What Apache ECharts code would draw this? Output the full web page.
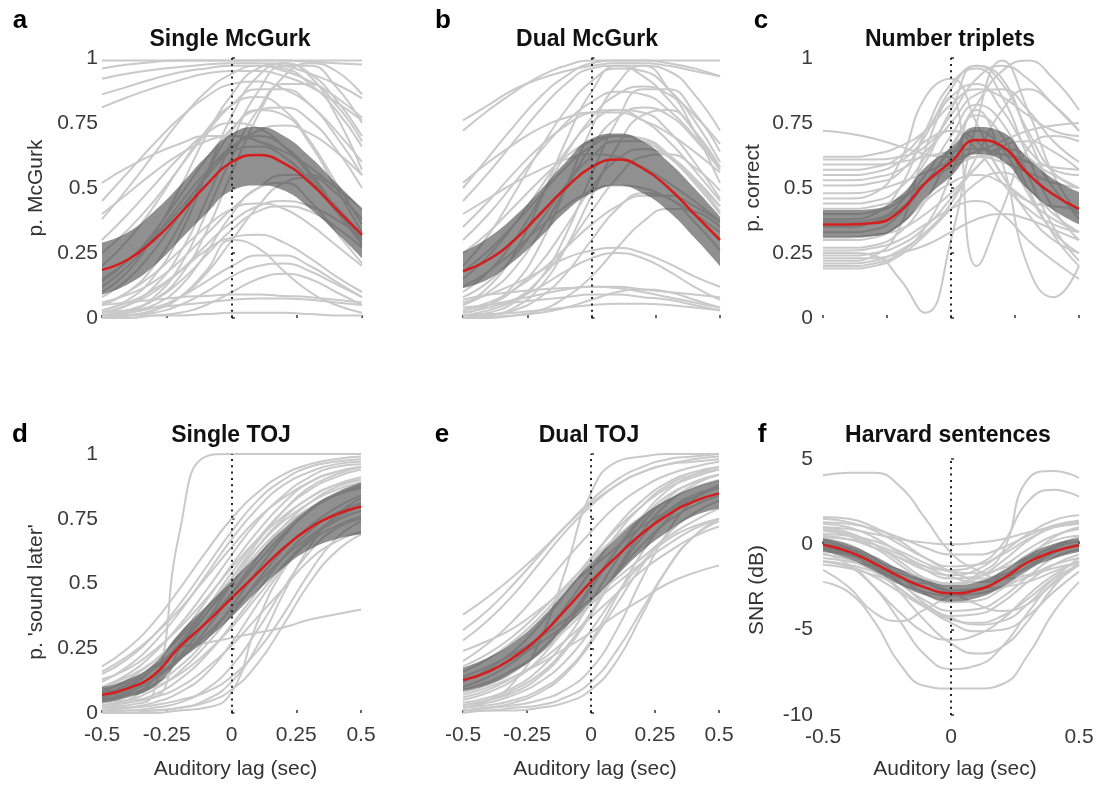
<!DOCTYPE html>
<html><head><meta charset="utf-8">
<script src="https://cdn.jsdelivr.net/npm/echarts@6/dist/echarts.min.js"></script>
<style>html,body{margin:0;padding:0;background:#fff}#c{width:1102px;height:789px}</style>
</head><body><div id="c"></div>
<script>
// ---------- DATA ----------
const lags = [-0.5,-0.4,-0.3,-0.2,-0.1,0,0.1,0.2,0.3,0.4,0.5];
const titles = ["Single McGurk","Dual McGurk","Number triplets","Single TOJ","Dual TOJ","Harvard sentences"];
const letters = ["a","b","c","d","e","f"];
const yNames = ["p. McGurk","","p. correct","p. 'sound later'","","SNR (dB)"];
const xName = "Auditory lag (sec)";

// a: Single McGurk
const meanA  = [0.185,0.225,0.30,0.40,0.51,0.60,0.627,0.595,0.52,0.42,0.32];
const upperA = [0.29,0.33,0.41,0.51,0.62,0.71,0.735,0.70,0.62,0.52,0.42];
const lowerA = [0.09,0.13,0.20,0.30,0.40,0.49,0.51,0.49,0.42,0.33,0.23];
const subjectsA = [
 [0.99,0.99,0.99,0.99,0.99,0.99,0.99,0.99,0.99,0.99,0.99],
 [0.96,0.975,0.985,0.99,0.99,0.99,0.99,0.99,0.985,0.98,0.975],
 [0.92,0.94,0.955,0.965,0.975,0.98,0.98,0.97,0.94,0.90,0.845],
 [0.86,0.89,0.92,0.945,0.96,0.97,0.97,0.95,0.91,0.85,0.77],
 [0.81,0.85,0.885,0.915,0.94,0.95,0.95,0.93,0.89,0.83,0.76],
 [0.38,0.50,0.63,0.76,0.87,0.94,0.97,0.96,0.90,0.80,0.66],
 [0.45,0.56,0.67,0.77,0.85,0.90,0.91,0.88,0.82,0.72,0.60],
 [0.10,0.18,0.32,0.50,0.70,0.86,0.96,0.98,0.94,0.84,0.70],
 [0.03,0.07,0.16,0.32,0.55,0.78,0.93,0.98,0.93,0.78,0.57],
 [0.02,0.05,0.12,0.25,0.45,0.68,0.87,0.97,0.97,0.89,0.75],
 [0.01,0.03,0.07,0.16,0.33,0.56,0.78,0.93,0.98,0.95,0.86],
 [0.25,0.34,0.45,0.58,0.71,0.82,0.88,0.88,0.82,0.70,0.55],
 [0.20,0.30,0.43,0.58,0.72,0.82,0.85,0.80,0.68,0.52,0.36],
 [0.05,0.10,0.20,0.36,0.55,0.72,0.80,0.78,0.67,0.50,0.33],
 [0.15,0.22,0.31,0.42,0.54,0.65,0.72,0.74,0.71,0.64,0.55],
 [0.52,0.58,0.63,0.67,0.70,0.70,0.68,0.64,0.58,0.50,0.42],
 [0.40,0.48,0.56,0.63,0.68,0.70,0.68,0.62,0.53,0.43,0.32],
 [0.08,0.15,0.26,0.40,0.55,0.66,0.70,0.66,0.56,0.42,0.28],
 [0.12,0.20,0.31,0.44,0.56,0.64,0.66,0.62,0.53,0.41,0.29],
 [0.02,0.05,0.10,0.18,0.28,0.37,0.43,0.45,0.43,0.38,0.31],
 [0.01,0.03,0.07,0.14,0.24,0.34,0.41,0.43,0.41,0.35,0.27],
 [0.00,0.02,0.05,0.12,0.25,0.40,0.50,0.52,0.45,0.33,0.21],
 [0.05,0.10,0.17,0.26,0.35,0.42,0.44,0.42,0.36,0.28,0.20],
 [0.03,0.06,0.11,0.18,0.26,0.31,0.32,0.29,0.23,0.16,0.10],
 [0.00,0.01,0.03,0.08,0.18,0.30,0.27,0.18,0.10,0.05,0.02],
 [0.01,0.02,0.04,0.08,0.14,0.20,0.24,0.24,0.20,0.14,0.08],
 [0.00,0.01,0.02,0.05,0.10,0.16,0.20,0.21,0.18,0.13,0.08],
 [0.05,0.06,0.07,0.08,0.085,0.09,0.09,0.085,0.08,0.07,0.06],
 [0.02,0.03,0.04,0.05,0.06,0.07,0.075,0.075,0.07,0.06,0.05],
 [0.00,0.00,0.01,0.02,0.05,0.10,0.15,0.17,0.15,0.10,0.05],
 [0.01,0.01,0.01,0.01,0.015,0.02,0.02,0.02,0.015,0.01,0.01],
 [0.30,0.40,0.51,0.62,0.71,0.75,0.73,0.66,0.55,0.42,0.30],
 [0.00,0.02,0.08,0.20,0.40,0.62,0.80,0.90,0.90,0.82,0.68],
 [0.06,0.09,0.14,0.22,0.32,0.42,0.50,0.55,0.55,0.50,0.42],
 [0.00,0.01,0.03,0.08,0.17,0.30,0.43,0.52,0.54,0.48,0.38],
 [0.14,0.22,0.33,0.47,0.61,0.73,0.80,0.81,0.76,0.65,0.50]
];

// b: Dual McGurk
const meanB  = [0.18,0.225,0.30,0.40,0.50,0.58,0.61,0.575,0.50,0.40,0.30];
const upperB = [0.255,0.31,0.39,0.49,0.60,0.69,0.71,0.68,0.60,0.50,0.39];
const lowerB = [0.115,0.15,0.22,0.31,0.41,0.48,0.51,0.48,0.41,0.31,0.20];
const subjectsB = [
 [0.72,0.80,0.87,0.93,0.97,0.99,0.99,0.99,0.99,0.99,0.99],
 [0.76,0.82,0.88,0.92,0.95,0.97,0.98,0.98,0.97,0.95,0.93],
 [0.50,0.62,0.74,0.85,0.93,0.98,0.99,0.99,0.98,0.96,0.93],
 [0.45,0.56,0.68,0.80,0.90,0.96,0.97,0.93,0.84,0.72,0.58],
 [0.20,0.32,0.48,0.65,0.80,0.91,0.96,0.95,0.88,0.76,0.60],
 [0.05,0.12,0.25,0.45,0.68,0.87,0.97,0.97,0.88,0.72,0.52],
 [0.02,0.05,0.13,0.28,0.50,0.73,0.90,0.97,0.95,0.86,0.72],
 [0.10,0.18,0.30,0.46,0.63,0.77,0.86,0.89,0.86,0.78,0.67],
 [0.30,0.40,0.52,0.64,0.75,0.83,0.87,0.86,0.80,0.70,0.58],
 [0.35,0.45,0.56,0.66,0.74,0.79,0.80,0.76,0.68,0.57,0.45],
 [0.15,0.24,0.36,0.50,0.64,0.75,0.80,0.79,0.72,0.60,0.46],
 [0.05,0.10,0.19,0.33,0.50,0.66,0.77,0.81,0.78,0.69,0.57],
 [0.00,0.02,0.06,0.15,0.32,0.55,0.76,0.88,0.88,0.79,0.64],
 [0.25,0.33,0.43,0.53,0.62,0.68,0.70,0.68,0.62,0.53,0.43],
 [0.08,0.14,0.24,0.37,0.51,0.62,0.68,0.68,0.62,0.52,0.40],
 [0.02,0.05,0.11,0.21,0.35,0.50,0.61,0.65,0.62,0.54,0.43],
 [0.40,0.46,0.52,0.57,0.61,0.63,0.62,0.58,0.52,0.45,0.37],
 [0.12,0.18,0.26,0.35,0.43,0.49,0.51,0.50,0.46,0.40,0.33],
 [0.03,0.06,0.11,0.18,0.27,0.36,0.43,0.47,0.47,0.43,0.37],
 [0.00,0.01,0.03,0.08,0.17,0.30,0.42,0.48,0.46,0.37,0.26],
 [0.06,0.09,0.13,0.18,0.23,0.26,0.27,0.25,0.21,0.16,0.12],
 [0.02,0.04,0.07,0.12,0.18,0.23,0.25,0.23,0.18,0.12,0.07],
 [0.07,0.09,0.10,0.11,0.115,0.12,0.12,0.11,0.10,0.09,0.08],
 [0.03,0.05,0.07,0.09,0.11,0.12,0.115,0.10,0.08,0.06,0.04],
 [0.01,0.015,0.02,0.03,0.04,0.05,0.055,0.055,0.05,0.04,0.03],
 [0.00,0.005,0.01,0.02,0.04,0.07,0.10,0.11,0.10,0.07,0.04],
 [0.04,0.05,0.06,0.07,0.08,0.09,0.09,0.08,0.07,0.05,0.03],
 [0.52,0.60,0.67,0.73,0.77,0.79,0.79,0.76,0.71,0.64,0.56],
 [0.00,0.01,0.04,0.12,0.27,0.47,0.66,0.78,0.80,0.72,0.58],
 [0.18,0.26,0.36,0.47,0.58,0.66,0.70,0.69,0.63,0.53,0.41],
 [0.01,0.03,0.07,0.15,0.27,0.41,0.54,0.62,0.63,0.58,0.49],
 [0.00,0.00,0.01,0.03,0.08,0.16,0.27,0.37,0.42,0.41,0.35]
];

// c: Number triplets
const meanC  = [0.36,0.36,0.365,0.41,0.52,0.60,0.685,0.66,0.555,0.475,0.42];
const upperC = [0.415,0.415,0.42,0.47,0.58,0.655,0.735,0.715,0.615,0.535,0.485];
const lowerC = [0.31,0.31,0.315,0.355,0.46,0.545,0.63,0.605,0.495,0.415,0.36];
const subjectsC = [
 [0.72,0.71,0.69,0.66,0.63,0.62,0.64,0.68,0.72,0.74,0.75],
 [0.61,0.61,0.61,0.62,0.66,0.78,0.92,0.97,0.92,0.82,0.72],
 [0.59,0.59,0.59,0.60,0.62,0.64,0.65,0.63,0.60,0.58,0.57],
 [0.57,0.57,0.58,0.62,0.72,0.85,0.90,0.80,0.65,0.57,0.55],
 [0.53,0.53,0.54,0.57,0.64,0.75,0.86,0.88,0.80,0.68,0.60],
 [0.51,0.51,0.52,0.56,0.70,0.88,0.97,0.90,0.72,0.56,0.50],
 [0.46,0.46,0.48,0.60,0.85,0.92,0.75,0.55,0.45,0.43,0.42],
 [0.44,0.44,0.45,0.50,0.62,0.80,0.97,0.92,0.70,0.50,0.40],
 [0.40,0.40,0.41,0.45,0.55,0.70,0.82,0.75,0.55,0.35,0.22],
 [0.37,0.37,0.38,0.44,0.60,0.72,0.68,0.55,0.40,0.30,0.25],
 [0.33,0.33,0.34,0.40,0.52,0.65,0.78,0.70,0.50,0.32,0.20],
 [0.30,0.30,0.31,0.36,0.45,0.52,0.55,0.52,0.45,0.38,0.33],
 [0.25,0.25,0.24,0.15,0.02,0.30,0.75,0.99,0.80,0.55,0.40],
 [0.22,0.22,0.24,0.35,0.65,0.85,0.20,0.42,0.65,0.70,0.68],
 [0.20,0.20,0.21,0.25,0.35,0.55,0.80,0.60,0.20,0.08,0.20],
 [0.19,0.19,0.20,0.24,0.32,0.42,0.52,0.56,0.50,0.40,0.33],
 [0.24,0.24,0.25,0.28,0.35,0.46,0.58,0.65,0.62,0.50,0.38],
 [0.27,0.27,0.28,0.33,0.45,0.62,0.72,0.65,0.48,0.33,0.25],
 [0.21,0.21,0.22,0.26,0.33,0.44,0.62,0.80,0.88,0.82,0.72],
 [0.35,0.35,0.37,0.42,0.52,0.66,0.82,0.95,0.99,0.92,0.80],
 [0.48,0.48,0.49,0.52,0.56,0.60,0.62,0.60,0.56,0.52,0.50],
 [0.62,0.62,0.63,0.66,0.72,0.82,0.88,0.85,0.78,0.72,0.70],
 [0.31,0.31,0.32,0.34,0.40,0.48,0.58,0.66,0.68,0.64,0.57],
 [0.26,0.26,0.27,0.30,0.36,0.42,0.45,0.40,0.30,0.22,0.15],
 [0.55,0.55,0.56,0.60,0.68,0.72,0.65,0.52,0.42,0.36,0.33],
 [0.42,0.42,0.43,0.46,0.52,0.58,0.62,0.63,0.60,0.55,0.50],
 [0.38,0.38,0.40,0.50,0.72,0.90,0.96,0.85,0.62,0.42,0.30],
 [0.23,0.23,0.23,0.25,0.28,0.33,0.38,0.40,0.38,0.34,0.30]
];

// d: Single TOJ
const meanD  = [0.07,0.095,0.147,0.256,0.346,0.443,0.54,0.636,0.713,0.765,0.797];
const upperD = [0.10,0.13,0.19,0.31,0.41,0.51,0.61,0.71,0.79,0.85,0.89];
const lowerD = [0.04,0.06,0.10,0.20,0.28,0.37,0.47,0.56,0.63,0.67,0.69];
const subjectsD = [
 [0.02,0.03,0.08,0.70,0.99,1,1,1,1,1,1],
 [0.02,0.05,0.13,0.25,0.27,0.29,0.31,0.33,0.36,0.38,0.40],
 [0.00,0.00,0.00,0.01,0.02,0.08,0.35,0.55,0.66,0.72,0.76],
 [0.18,0.25,0.35,0.48,0.62,0.75,0.85,0.92,0.96,0.98,0.99],
 [0.15,0.21,0.30,0.42,0.56,0.70,0.82,0.90,0.95,0.97,0.98],
 [0.12,0.18,0.27,0.39,0.53,0.67,0.79,0.88,0.93,0.96,0.97],
 [0.10,0.15,0.23,0.34,0.47,0.61,0.74,0.84,0.91,0.95,0.96],
 [0.08,0.13,0.20,0.30,0.43,0.57,0.70,0.81,0.89,0.93,0.95],
 [0.06,0.10,0.17,0.27,0.40,0.54,0.67,0.78,0.86,0.91,0.94],
 [0.13,0.17,0.24,0.33,0.44,0.56,0.67,0.76,0.83,0.88,0.91],
 [0.05,0.08,0.13,0.21,0.32,0.46,0.60,0.72,0.81,0.87,0.90],
 [0.04,0.07,0.11,0.18,0.28,0.41,0.55,0.68,0.78,0.84,0.88],
 [0.03,0.05,0.09,0.16,0.26,0.38,0.51,0.63,0.72,0.79,0.84],
 [0.08,0.10,0.14,0.21,0.30,0.40,0.50,0.60,0.68,0.75,0.80],
 [0.02,0.04,0.07,0.13,0.22,0.34,0.47,0.60,0.70,0.77,0.81],
 [0.01,0.02,0.04,0.08,0.15,0.27,0.42,0.56,0.67,0.74,0.78],
 [0.03,0.04,0.06,0.10,0.17,0.26,0.37,0.48,0.59,0.66,0.70],
 [0.01,0.01,0.02,0.04,0.09,0.18,0.32,0.48,0.62,0.71,0.75],
 [0.02,0.02,0.03,0.05,0.08,0.14,0.24,0.38,0.54,0.67,0.74],
 [0.00,0.00,0.01,0.02,0.05,0.12,0.26,0.46,0.64,0.76,0.83],
 [0.06,0.09,0.14,0.22,0.35,0.50,0.64,0.75,0.83,0.88,0.90],
 [0.10,0.14,0.20,0.29,0.40,0.52,0.64,0.74,0.81,0.86,0.89],
 [0.16,0.22,0.30,0.40,0.52,0.64,0.75,0.83,0.89,0.93,0.95],
 [0.04,0.05,0.06,0.25,0.38,0.50,0.62,0.72,0.79,0.84,0.87],
 [0.00,0.01,0.01,0.02,0.04,0.09,0.19,0.34,0.50,0.62,0.69],
 [0.07,0.11,0.17,0.26,0.38,0.52,0.66,0.78,0.87,0.92,0.95],
 [0.09,0.12,0.18,0.25,0.35,0.46,0.58,0.69,0.78,0.84,0.87],
 [0.05,0.07,0.10,0.15,0.23,0.33,0.45,0.57,0.67,0.74,0.78]
];

// e: Dual TOJ
const meanE  = [0.127,0.16,0.217,0.295,0.398,0.507,0.604,0.694,0.765,0.816,0.848];
const upperE = [0.175,0.215,0.275,0.36,0.47,0.58,0.675,0.76,0.825,0.87,0.90];
const lowerE = [0.085,0.11,0.16,0.23,0.33,0.43,0.53,0.625,0.70,0.76,0.79];
const subjectsE = [
 [0.02,0.05,0.12,0.28,0.55,0.85,0.97,0.99,1,1,1],
 [0.38,0.45,0.53,0.62,0.72,0.82,0.90,0.95,0.98,0.99,1],
 [0.28,0.36,0.46,0.58,0.70,0.80,0.88,0.93,0.96,0.98,0.99],
 [0.20,0.27,0.36,0.47,0.59,0.70,0.80,0.87,0.92,0.95,0.97],
 [0.24,0.28,0.33,0.40,0.48,0.56,0.64,0.72,0.78,0.83,0.87],
 [0.16,0.21,0.28,0.37,0.48,0.60,0.71,0.80,0.87,0.91,0.94],
 [0.12,0.17,0.24,0.34,0.46,0.59,0.72,0.82,0.89,0.93,0.95],
 [0.10,0.14,0.20,0.29,0.41,0.55,0.69,0.80,0.88,0.92,0.94],
 [0.08,0.11,0.16,0.24,0.35,0.49,0.63,0.75,0.84,0.89,0.92],
 [0.05,0.08,0.13,0.21,0.33,0.48,0.63,0.76,0.86,0.92,0.95],
 [0.04,0.06,0.10,0.17,0.28,0.43,0.59,0.73,0.83,0.89,0.92],
 [0.03,0.05,0.08,0.14,0.24,0.38,0.54,0.68,0.78,0.84,0.87],
 [0.02,0.03,0.05,0.09,0.16,0.28,0.45,0.62,0.75,0.83,0.87],
 [0.01,0.02,0.03,0.05,0.09,0.17,0.32,0.52,0.70,0.82,0.88],
 [0.01,0.01,0.02,0.03,0.06,0.12,0.24,0.40,0.56,0.68,0.75],
 [0.06,0.09,0.14,0.20,0.28,0.37,0.46,0.55,0.62,0.68,0.72],
 [0.14,0.18,0.23,0.29,0.36,0.44,0.52,0.60,0.68,0.74,0.79],
 [0.07,0.10,0.14,0.19,0.25,0.31,0.38,0.44,0.50,0.54,0.57],
 [0.02,0.04,0.07,0.12,0.20,0.32,0.46,0.58,0.67,0.72,0.75],
 [0.00,0.01,0.01,0.02,0.04,0.09,0.20,0.38,0.56,0.68,0.74],
 [0.09,0.12,0.17,0.23,0.32,0.42,0.54,0.65,0.74,0.80,0.84],
 [0.32,0.40,0.50,0.61,0.72,0.81,0.88,0.93,0.96,0.97,0.98],
 [0.13,0.16,0.21,0.27,0.34,0.42,0.50,0.58,0.65,0.71,0.75],
 [0.03,0.05,0.09,0.15,0.25,0.39,0.55,0.70,0.81,0.88,0.92],
 [0.18,0.23,0.30,0.39,0.49,0.59,0.68,0.76,0.82,0.87,0.90],
 [0.01,0.02,0.04,0.08,0.15,0.27,0.42,0.57,0.69,0.77,0.82]
];

// f: Harvard sentences
const meanF  = [-0.02,-0.43,-1.11,-1.89,-2.54,-2.87,-2.68,-2.03,-1.05,-0.43,-0.05];
const upperF = [0.35,-0.02,-0.68,-1.45,-2.08,-2.40,-2.22,-1.58,-0.62,0.02,0.35];
const lowerF = [-0.40,-0.85,-1.55,-2.35,-3.00,-3.35,-3.15,-2.50,-1.50,-0.85,-0.45];
const subjectsF = [
 [4.05,4.20,4.20,3.40,1.50,-0.50,-1.50,-2.00,-1.80,-1.20,-0.80],
 [-1.00,-1.20,-1.60,-2.00,-2.30,-2.30,-1.80,-0.50,3.80,4.30,3.90],
 [0.50,0.30,-0.20,-0.80,-1.30,-1.50,-1.20,0.00,2.50,3.20,2.80],
 [-2.20,-2.80,-4.50,-7.00,-8.30,-8.45,-8.45,-8.20,-6.50,-4.00,-2.20],
 [-1.00,-1.30,-2.50,-4.50,-6.50,-7.30,-7.10,-6.00,-4.00,-2.20,-1.20],
 [0.00,-0.30,-1.20,-2.80,-4.50,-5.80,-6.40,-6.00,-4.50,-2.50,-1.00],
 [-0.50,-1.20,-2.50,-4.00,-5.20,-5.60,-5.30,-4.40,-3.00,-1.80,-1.00],
 [-1.50,-2.50,-4.00,-4.50,-3.80,-3.00,-2.60,-2.50,-2.20,-1.60,-1.00],
 [1.00,0.90,0.60,0.30,0.10,0.00,0.10,0.30,0.70,1.00,1.20],
 [1.50,1.30,0.80,0.00,-0.80,-1.30,-1.20,-0.60,0.30,1.00,1.30],
 [1.20,1.00,0.40,-0.50,-1.50,-2.00,-1.90,-1.30,-0.30,0.50,0.90],
 [0.80,0.50,-0.20,-1.20,-2.20,-2.70,-2.60,-2.00,-1.00,-0.10,0.40],
 [0.30,0.00,-0.80,-1.90,-2.90,-3.40,-3.30,-2.60,-1.50,-0.50,0.00],
 [-0.20,-0.50,-1.20,-2.30,-3.30,-3.90,-3.80,-3.10,-1.90,-0.80,-0.30],
 [-0.60,-0.90,-1.60,-2.60,-3.60,-4.20,-4.10,-3.40,-2.20,-1.20,-0.60],
 [-1.00,-1.30,-1.90,-2.80,-3.70,-4.40,-4.60,-4.20,-3.20,-2.00,-1.20],
 [1.60,1.50,1.00,0.20,-0.80,-1.60,-2.00,-1.80,-0.80,0.40,1.00],
 [0.60,0.50,0.20,-0.40,-1.10,-1.60,-1.70,-1.40,-0.80,-0.20,0.20],
 [-1.20,-1.40,-1.80,-2.30,-2.80,-3.00,-2.90,-2.50,-1.90,-1.40,-1.10],
 [1.00,0.70,0.00,-1.00,-2.00,-2.40,-2.00,-1.00,0.20,1.00,1.30],
 [-0.40,-0.60,-1.00,-1.50,-2.00,-2.30,-2.20,-1.60,-0.60,0.20,0.50],
 [0.20,-0.20,-1.00,-2.20,-3.50,-4.30,-4.70,-4.50,-3.50,-2.00,-0.80],
 [-0.80,-1.00,-1.30,-1.70,-2.20,-2.80,-3.50,-3.90,-3.50,-2.30,-1.20],
 [0.90,0.60,0.00,-0.80,-1.50,-1.80,-1.50,-0.50,0.60,1.40,1.70],
 [0.40,0.30,0.00,-0.60,-1.30,-1.90,-2.20,-2.00,-1.30,-0.30,0.50],
 [-0.30,-0.60,-1.40,-2.60,-3.70,-4.60,-5.10,-5.00,-4.20,-2.80,-1.60],
 [1.30,1.20,0.90,0.40,-0.20,-0.60,-0.60,-0.20,0.50,1.10,1.40]
];

// ---------- LAYOUT / STYLE ----------
const FONT = "'Liberation Sans', Arial, Helvetica, sans-serif";
const panels = [
 {grid:{left:102,top:58,width:260,height:260}, y:[0,1,0.25], xint:0.25, yLab:true,  xLab:false, yMargin:4,  letter:[20,21],  title:[230,40],  yName:[36,188]},
 {grid:{left:463,top:58,width:257,height:260}, y:[0,1,0.25], xint:0.25, yLab:false, xLab:false, yMargin:4,  letter:[443,21], title:[587,40],  yName:null},
 {grid:{left:823,top:58,width:256,height:260}, y:[0,1,0.25], xint:0.25, yLab:true,  xLab:false, yMargin:10, letter:[761,21], title:[950,40],  yName:[753,188]},
 {grid:{left:102,top:454,width:259,height:259},y:[0,1,0.25], xint:0.25, yLab:true,  xLab:true,  yMargin:4,  letter:[20,435], title:[231,436], yName:[36,592]},
 {grid:{left:463,top:454,width:256,height:259},y:[0,1,0.25], xint:0.25, yLab:false, xLab:true,  yMargin:4,  letter:[442,435],title:[589,436], yName:null},
 {grid:{left:823,top:459,width:256,height:256},y:[-10,5,5], xint:0.5,  yLab:true,  xLab:true,  yMargin:10, letter:[762,435],title:[948,436], yName:[757,590]}
];
const panelData = [
 [subjectsA, meanA, upperA, lowerA],
 [subjectsB, meanB, upperB, lowerB],
 [subjectsC, meanC, upperC, lowerC],
 [subjectsD, meanD, upperD, lowerD],
 [subjectsE, meanE, upperE, lowerE],
 [subjectsF, meanF, upperF, lowerF]
];

const grids = [], xAxes = [], yAxes = [], series = [], graphics = [];
const tickStyle = {show:true, inside:true, length:3, lineStyle:{color:'#333', width:1.5}};
panels.forEach((p, i) => {
  grids.push(Object.assign({}, p.grid));
  const xv = xAxes.length;
  xAxes.push({type:'value', gridIndex:i, min:-0.5, max:0.5, interval:p.xint,
    axisLine:{show:false}, splitLine:{show:false}, axisTick:tickStyle,
    axisLabel:{show:p.xLab, color:'#3a3a3a', fontSize:21, fontFamily:FONT, margin:12}});
  const xc = xAxes.length;
  // hidden category axis over the same lags, used only to stack the band
  xAxes.push({type:'category', gridIndex:i, data:lags.map(String), boundaryGap:false, show:false});
  yAxes.push({type:'value', gridIndex:i, min:p.y[0], max:p.y[1], interval:p.y[2],
    axisLine:{show:false}, splitLine:{show:false}, axisTick:tickStyle,
    axisLabel:{show:p.yLab, color:'#3a3a3a', fontSize:21, fontFamily:FONT, margin:p.yMargin}});
  const [subs, mean, upper, lower] = panelData[i];
  subs.forEach(s => series.push({type:'line', xAxisIndex:xv, yAxisIndex:i, silent:true, z:1,
    data: lags.map((x,k)=>[x, s[k]]), smooth:0.5, symbol:'none',
    lineStyle:{color:'#c9c9c9', width:2}}));
  series.push({type:'line', xAxisIndex:xc, yAxisIndex:i, silent:true, z:2, stack:'band'+i, stackStrategy:'all',
    data: lower.slice(), smooth:0.5, symbol:'none', lineStyle:{width:0, opacity:0}});
  series.push({type:'line', xAxisIndex:xc, yAxisIndex:i, silent:true, z:2, stack:'band'+i, stackStrategy:'all',
    data: upper.map((u,k)=>u-lower[k]), smooth:0.5, symbol:'none', lineStyle:{width:0, opacity:0},
    areaStyle:{color:'rgb(70,70,70)', opacity:0.6}});
  series.push({type:'line', xAxisIndex:xv, yAxisIndex:i, silent:true, z:3,
    data: lags.map((x,k)=>[x, mean[k]]), smooth:0.5, symbol:'none',
    lineStyle:{color:'#d41e1e', width:2.5},
    markLine:{silent:true, symbol:['none','none'], label:{show:false}, animation:false,
      lineStyle:{type:[2,4.3], color:'#222', width:2}, data:[{xAxis:0}]}});
  graphics.push({type:'text', x:p.letter[0], y:p.letter[1], style:{text:letters[i], font:'bold 26px '+FONT, fill:'#000', align:'center', verticalAlign:'middle'}});
  graphics.push({type:'text', x:p.title[0], y:p.title[1], style:{text:titles[i], font:'bold 23px '+FONT, fill:'#111', align:'center', verticalAlign:'middle'}});
  if (p.yName) graphics.push({type:'text', x:p.yName[0], y:p.yName[1], rotation:Math.PI/2,
    style:{text:yNames[i], font:'21px '+FONT, fill:'#333', align:'center', verticalAlign:'middle'}});
  if (p.xLab) graphics.push({type:'text', x:p.grid.left + p.grid.width/2 + 4, y:769,
    style:{text:xName, font:'21px '+FONT, fill:'#333', align:'center', verticalAlign:'middle'}});
});

const chart = echarts.init(document.getElementById('c'), null, {renderer:'canvas'});
chart.setOption({animation:false, backgroundColor:'#fff', grid:grids, xAxis:xAxes, yAxis:yAxes, series:series, graphic:graphics});
</script></body></html>
